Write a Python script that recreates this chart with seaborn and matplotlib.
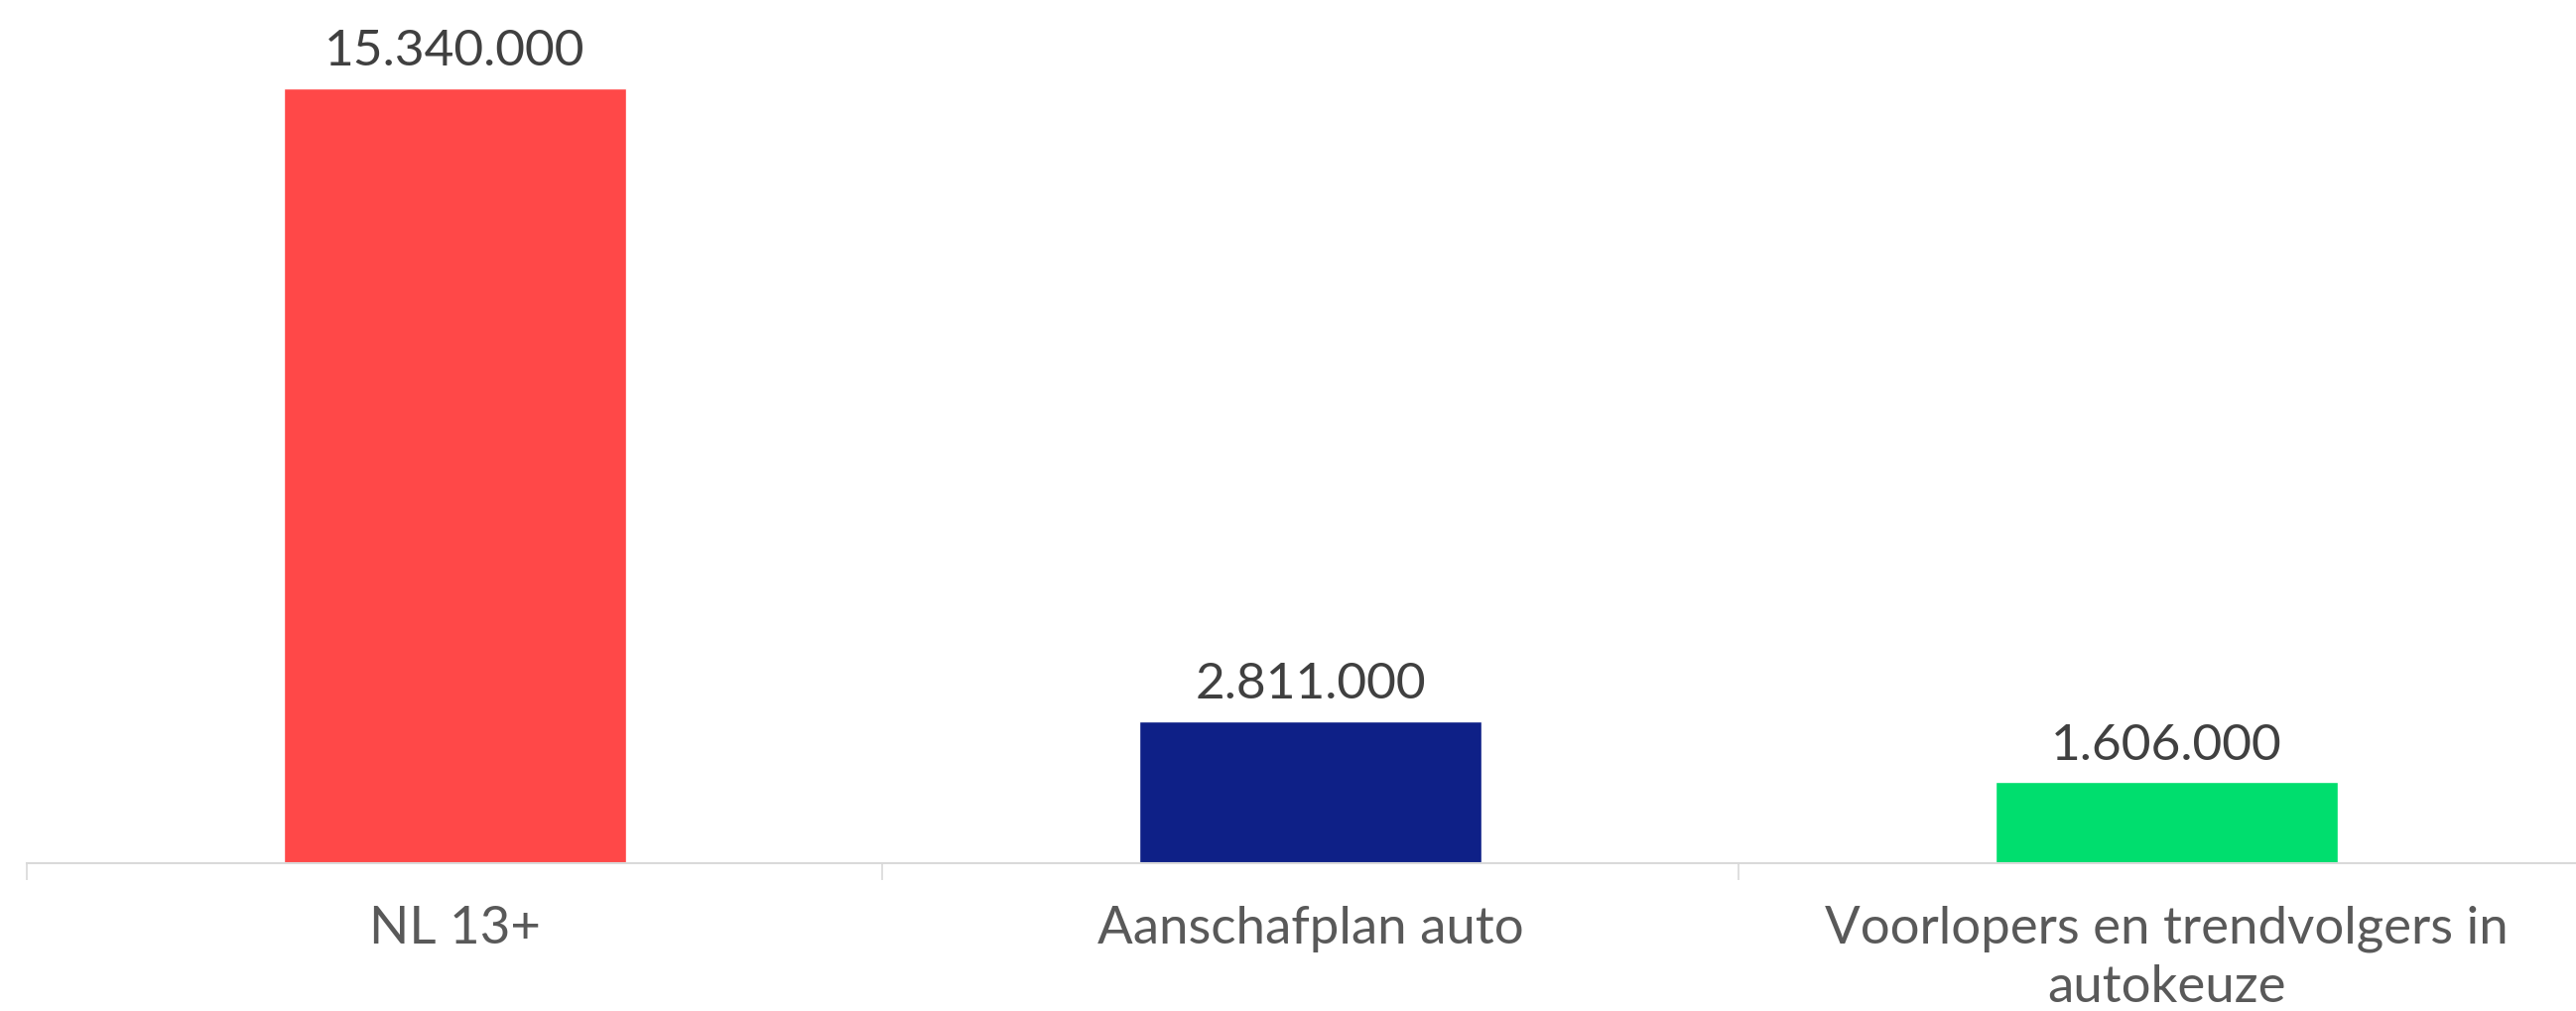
import matplotlib
matplotlib.use("Agg")
import matplotlib.pyplot as plt
import seaborn as sns

# Data
categories = ["NL 13+", "Aanschafplan auto", "Voorlopers en trendvolgers in autokeuze"]
tick_labels = ["NL 13+", "Aanschafplan auto", "Voorlopers en trendvolgers in\nautokeuze"]
values = [15340000, 2811000, 1606000]
value_labels = ["15.340.000", "2.811.000", "1.606.000"]
bar_colors = ["#FF4848", "#0E2087", "#00DE6E"]

sns.set_theme(style="white")
plt.rcParams["font.family"] = ["Lato", "DejaVu Sans"]

W, H, DPI = 2596, 1020, 100
fig = plt.figure(figsize=(W / DPI, H / DPI), dpi=DPI)
# axes: baseline at y=871 px, categories 862.5 px apart starting at x=27
left_px, base_px, step_px = 27, 871, 862.5
ax = fig.add_axes([left_px / W, 1 - base_px / H, 3 * step_px / W, base_px / H])

sns.barplot(x=categories, y=values, hue=categories, palette=bar_colors,
            width=0.4, legend=False, ax=ax, saturation=1)

ax.set_xlim(-0.5, 2.5)
ax.set_ylim(0, 17.107e6)
ax.set_yticks([])
ax.set_xlabel("")
ax.set_ylabel("")
for s in ["top", "right", "left"]:
    ax.spines[s].set_visible(False)
ax.spines["bottom"].set_color("#D9D9D9")
ax.spines["bottom"].set_linewidth(1.5)

ax.set_xticks([-0.5, 0.5, 1.5, 2.5], minor=False)
ax.set_xticklabels([])
ax.tick_params(axis="x", which="major", bottom=True, length=12, width=1.2, color="#D9D9D9")
ax.set_xticks([0, 1, 2], minor=True)
ax.set_xticklabels(tick_labels, minor=True, fontsize=38, color="#595959", linespacing=1.3)
ax.tick_params(axis="x", which="minor", bottom=False, length=0, pad=30)

for i, (v, lab) in enumerate(zip(values, value_labels)):
    ax.annotate(lab, (i, v), xytext=(0, 17), textcoords="offset points",
                ha="center", va="baseline", fontsize=37, color="#404040")

fig.savefig("out.png", dpi=DPI)
